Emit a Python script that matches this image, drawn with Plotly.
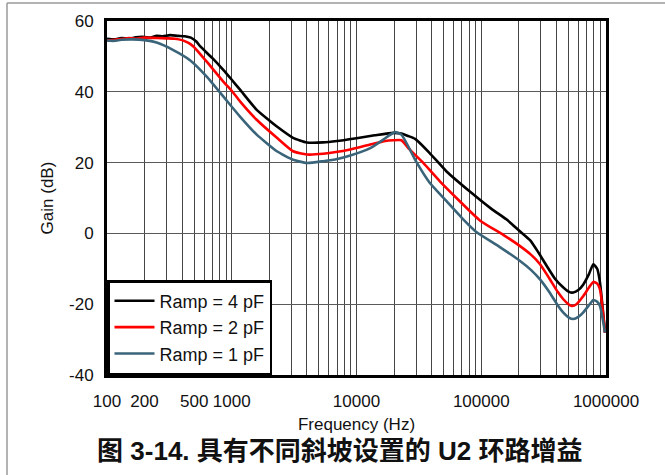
import plotly.graph_objects as go

# ---------------- data ----------------
freq_4pf = [100, 115, 130, 150, 170, 200, 220, 250, 280, 320, 370, 420, 470, 520, 560, 700, 855, 1000, 1165,
            1585, 2000, 2300, 3100, 4000, 5400, 7000, 10000, 14000, 19700, 22900, 26000, 29500, 38600,
            52700, 80600, 120000, 160000, 204000, 246000, 285000, 335000, 390000, 455000, 510000, 547000,
            600000, 658000, 730000, 791000, 850000, 895000, 982000]
gain_4pf = [55.0, 54.8, 55.2, 55.0, 55.4, 55.5, 55.3, 55.8, 55.7, 56.0, 55.8, 55.7, 55.3, 54.2, 52.8, 49.5,
            46.2, 43.4, 40.6, 34.9, 31.9, 30.2, 27.0, 25.7, 25.7, 26.1, 26.9, 27.7, 28.4, 28.2, 27.5, 26.7,
            22.7, 17.5, 11.9, 7.0, 3.9, 0.6, -1.9, -5.2, -9.2, -12.8, -15.3, -16.6, -16.7, -16.0, -14.4,
            -11.5, -8.7, -10.0, -13.9, -28.0]

freq_2pf = [100, 115, 130, 150, 170, 200, 250, 300, 350, 400, 450, 493, 630, 855, 1000, 1165, 1585, 2300,
            3100, 4000, 5400, 8900, 12900, 17000, 19700, 22900, 26000, 34300, 46600, 63300, 98000,
            150000, 204700, 250000, 296000, 350000, 410000, 455000, 500000, 531000, 580000, 658000,
            730000, 791000, 850000, 895000, 982000]
gain_2pf = [54.5, 54.7, 54.9, 55.2, 55.0, 55.3, 55.2, 55.1, 55.0, 54.6, 53.8, 52.8, 48.5, 42.9, 40.3,
            37.3, 32.1, 27.0, 23.2, 22.3, 22.5, 23.7, 25.1, 26.1, 26.3, 26.3, 24.1, 19.9, 14.7, 10.0, 3.6,
            -0.4, -3.6, -6.0, -8.7, -12.6, -16.5, -18.6, -20.0, -20.5, -20.0, -17.7, -15.3, -13.7,
            -14.2, -15.8, -28.0]

freq_1pf = [100, 115, 130, 160, 200, 250, 340, 460, 630, 855, 1165, 1585, 2300, 3100, 4000, 5400, 7000,
            8900, 12900, 16400, 20300, 22900, 30500, 38600, 52700, 72000, 92000, 140000, 204700, 250000,
            296000, 350000, 410000, 455000, 500000, 547000, 600000, 658000, 730000, 791000, 850000,
            895000, 982000]
gain_1pf = [54.5, 54.4, 54.7, 54.8, 54.6, 53.9, 51.8, 49.0, 44.3, 38.7, 33.0, 27.9, 23.2, 20.8, 19.9,
            20.4, 21.0, 22.0, 24.1, 26.5, 28.6, 27.9, 19.9, 14.3, 9.1, 3.9, 0.3, -3.8, -7.8, -10.3,
            -13.0, -16.5, -20.3, -22.4, -23.7, -24.2, -23.6, -22.3, -20.3, -18.8, -19.3, -20.5, -28.0]

series_names = ["Ramp = 4 pF", "Ramp = 2 pF", "Ramp = 1 pF"]
series_colors = ["#000000", "#ff0000", "#3a6479"]

labeled_ticks = [100, 200, 500, 1000, 10000, 100000, 1000000]
decades = [100, 1000, 10000, 100000]
y_ticks = [-40, -20, 0, 20, 40, 60]

# ---------------- figure ----------------
grid_vals = [m * d for d in decades for m in range(1, 10)] + [1000000]
grid_text = [str(v) if v in labeled_ticks else "" for v in grid_vals]
y_text = [str(v) for v in y_ticks]

fig = go.Figure()
for f, g, name, col in zip([freq_4pf, freq_2pf, freq_1pf], [gain_4pf, gain_2pf, gain_1pf],
                           series_names, series_colors):
    fig.add_trace(go.Scatter(x=f, y=g, mode="lines", name=name,
                             line=dict(color=col, width=2.6, shape="spline", smoothing=0.5)))

font_main = "Liberation Sans, Arial, Helvetica, sans-serif"

# plot area in pixels: x 107..606, y 21..375
PL, PR, PT, PB = 107, 606, 21, 375
def px_x(px):
    return (px - PL) / (PR - PL)
def px_y(py):
    return (PB - py) / (PB - PT)

fig.update_layout(
    width=665, height=475,
    paper_bgcolor="white", plot_bgcolor="white",
    margin=dict(l=PL, r=665 - PR, t=PT, b=475 - PB, autoexpand=False),
    font=dict(family=font_main, size=17, color="#111111"),
    showlegend=True,
    legend=dict(x=0, y=0, xanchor="left", yanchor="bottom",
                bgcolor="white", bordercolor="#000000", borderwidth=2.5,
                font=dict(size=18), tracegroupgap=0, itemwidth=40),
    title=dict(text="<b>图 3-14. 具有不同斜坡设置的 U2 环路增益</b>",
               x=0.511, xref="container", xanchor="center",
               y=1 - 451 / 475, yref="container", yanchor="middle",
               font=dict(family="Liberation Sans, Noto Sans CJK SC, sans-serif", size=26, color="#111111")),
    shapes=[
        dict(type="line", xref="paper", yref="paper",
             x0=px_x(7), x1=px_x(7), y0=px_y(480), y1=px_y(3),
             line=dict(color="#9a9a9a", width=1.5)),
        dict(type="line", xref="paper", yref="paper",
             x0=px_x(7), x1=px_x(670), y0=px_y(3), y1=px_y(3),
             line=dict(color="#9a9a9a", width=1.5)),
    ],
)

fig.update_xaxes(type="log", range=[2, 6], automargin=False,
                 tickmode="array", tickvals=grid_vals, ticktext=grid_text,
                 showgrid=True, gridcolor="#454545", gridwidth=1,
                 showline=True, linecolor="#000000", linewidth=3, mirror=True,
                 ticks="", ticklabelstandoff=9,
                 title=dict(text="Frequency (Hz)", font=dict(size=17), standoff=8),
                 zeroline=False)
fig.update_yaxes(range=[-40, 60], automargin=False, tickmode="array", tickvals=y_ticks, ticktext=y_text,
                 showgrid=True, gridcolor="#5a5a5a", gridwidth=1.3,
                 showline=True, linecolor="#000000", linewidth=3, mirror=True,
                 ticks="", ticklabelstandoff=7, zeroline=False,
                 title=dict(text="Gain (dB)", font=dict(size=17), standoff=12))

fig.write_html("out.html", config={"displayModeBar": False},
               post_script="document.body.style.margin='0px';")
